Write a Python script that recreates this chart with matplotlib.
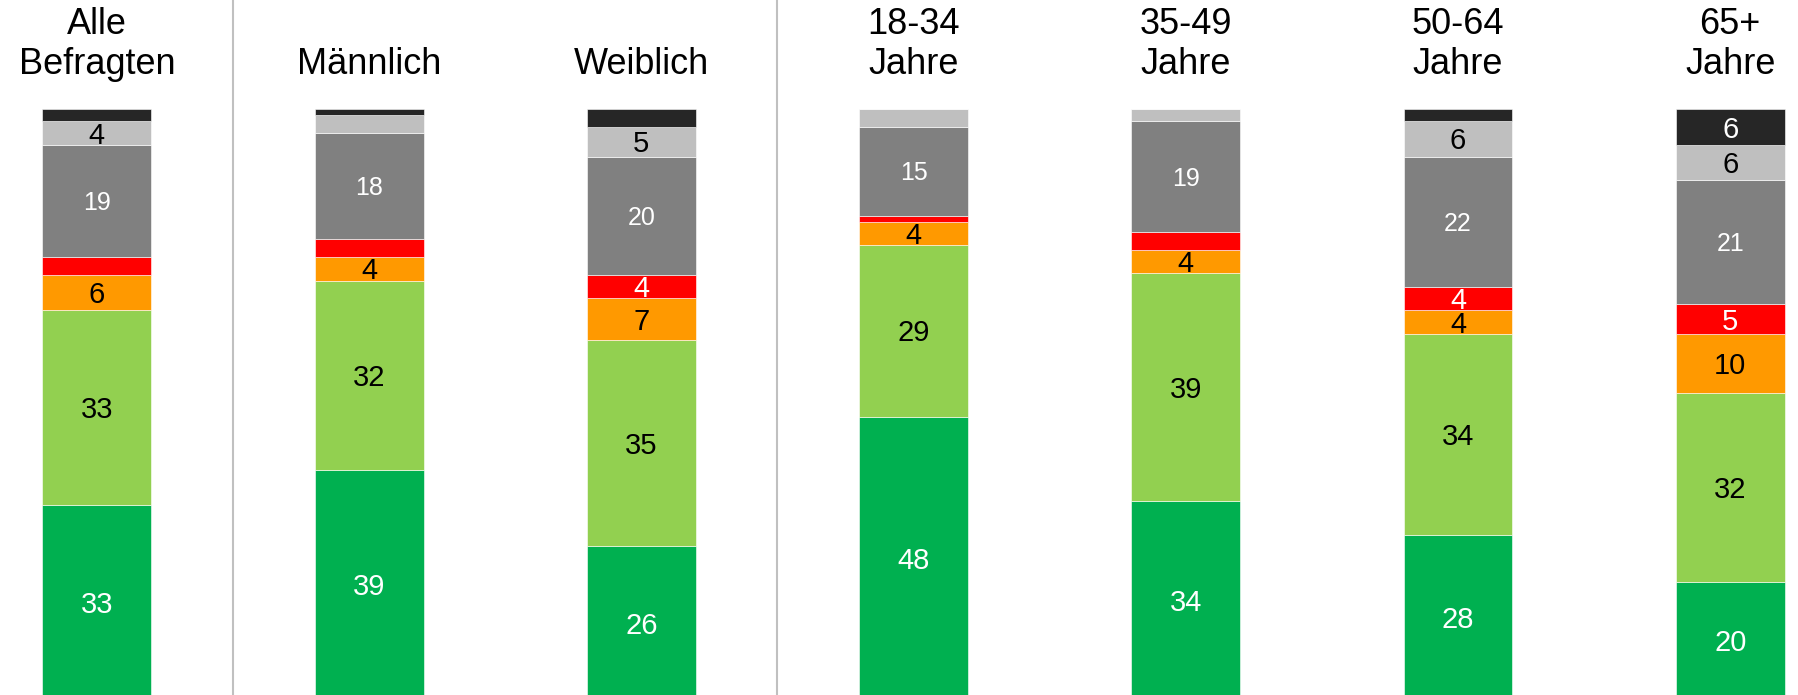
import matplotlib
matplotlib.use("Agg")
import matplotlib.pyplot as plt
import matplotlib.transforms as mtransforms
import numpy as np

plt.rcParams['font.family'] = ['Liberation Sans', 'DejaVu Sans']

categories = ["Alle\nBefragten", "Männlich", "Weiblich", "18-34\nJahre",
              "35-49\nJahre", "50-64\nJahre", "65+\nJahre"]

# segments bottom to top
dark_green = [33, 39, 26, 48, 34, 28, 20]
light_green = [33, 32, 35, 29, 39, 34, 32]
orange = [6, 4, 7, 4, 4, 4, 10]
red = [3, 3, 4, 1, 3, 4, 5]
gray = [19, 18, 20, 15, 19, 22, 21]
light_gray = [4, 3, 5, 3, 2, 6, 6]
black = [2, 1, 3, 0, 0, 2, 6]

series = [dark_green, light_green, orange, red, gray, light_gray, black]
colors = ["#00B050", "#92D050", "#FF9900", "#FF0000", "#808080", "#BFBFBF", "#262626"]
label_colors = ["white", "black", "black", "white", "white", "black", "white"]
label_sizes = [21, 21, 21, 21, 18, 21, 21]

W, H = 1798, 695
fig = plt.figure(figsize=(W / 100, H / 100), dpi=100)
ax = fig.add_axes([0, 0, 1, 1])

x = np.arange(len(categories))
ax.set_xlim(-0.356, 6.249)
ax.set_ylim(0.85, 118.54)
ax.axis("off")

# 100% stacked: normalise each bar to its total
totals = np.sum(np.array(series, dtype=float), axis=0)

bottom = np.zeros(len(categories))
for vals, col, lc, fs in zip(series, colors, label_colors, label_sizes):
    raw = np.array(vals, dtype=float)
    h = raw / totals * 100
    ax.bar(x, h, bottom=bottom, width=0.4, color=col, edgecolor="white",
           linewidth=0.4, zorder=2)
    for xi, v, hv, b in zip(x, raw, h, bottom):
        if v >= 4:
            ax.annotate(f"{int(v)}", (xi, b + hv / 2), xytext=(0, -0.358 * fs),
                        textcoords="offset points", ha="center", va="baseline",
                        color=lc, fontsize=fs, zorder=3)
    bottom += h

# separators between groups
for sx in [0.5, 2.5]:
    ax.plot([sx, sx], [0, 1], transform=ax.get_xaxis_transform(), color="#C0C0C0",
            linewidth=1.5, zorder=1, clip_on=False)

# category labels
trans = mtransforms.blended_transform_factory(ax.transData, fig.transFigure)
for xi, cat in zip(x, categories):
    lines = cat.split("\n")
    if len(lines) == 1:
        lines = ["", lines[0]]
    for line, by in zip(lines, [34, 74]):
        if line:
            ax.text(xi, 1 - by / H, line, transform=trans, ha="center",
                    va="baseline", fontsize=26, color="black")

fig.savefig("out.png", dpi=100)
